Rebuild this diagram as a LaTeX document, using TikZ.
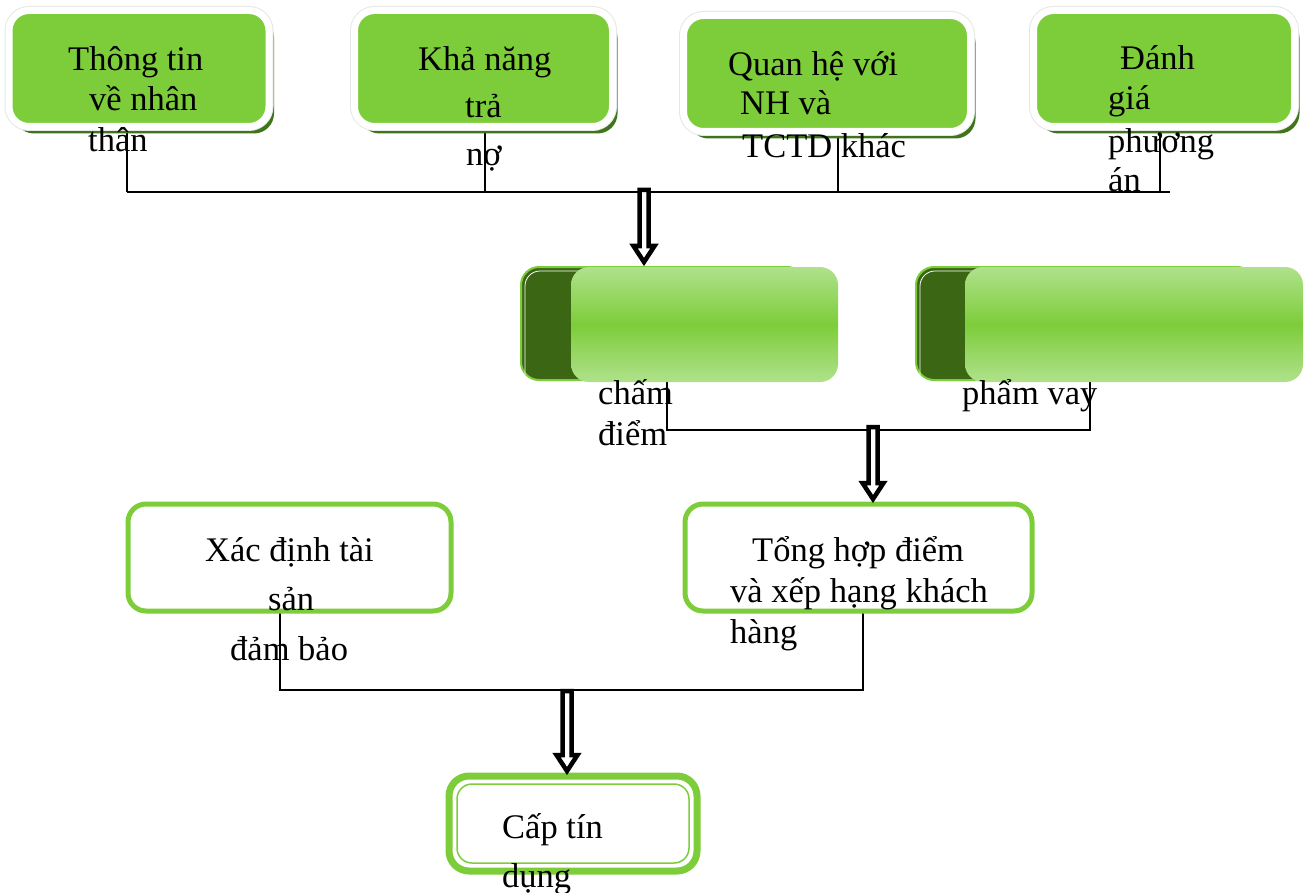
\documentclass[tikz,border=0pt]{standalone}
\usepackage{fontspec}
\setmainfont{Liberation Serif}
\usetikzlibrary{calc}
\definecolor{leaf}{RGB}{125,205,58}
\definecolor{leafshadow}{RGB}{64,116,28}
\definecolor{deepleaf}{RGB}{59,102,20}
\definecolor{paleleaf}{RGB}{176,225,140}
\definecolor{haze}{RGB}{228,232,226}

% hollow block arrow running straight down from #1 to the top edge of #2
\newcommand\hollowarrow[2]{%
  \draw[hollow] let \p1=(#1), \p2=(#2) in
    (\x1-4.5pt,\y1) -- (\x1-4.5pt,\y2+21pt) -- (\x1-10.5pt,\y2+21pt) --
    (\x1,\y2+5pt) -- (\x1+10.5pt,\y2+21pt) -- (\x1+4.5pt,\y2+21pt) --
    (\x1+4.5pt,\y1) -- cycle;}
% rounded panel drawn over the frame of a named node
\newcommand\panel[2]{\path[#1] (#2.north west) rectangle (#2.south east);}

\begin{document}
\begin{tikzpicture}[x=1pt,y=-1pt,
  box/.style={inner sep=0pt, outer sep=0pt},
  lbl/.style={inner sep=0pt, anchor=base west, font=\fontsize{34.5}{40}\selectfont, text=black},
  topbox/.style={rounded corners=20pt, fill=leaf, draw=white, line width=7pt,
    preaction={fill=leafshadow, transform canvas={xshift=5pt,yshift=-7pt}},
    preaction={draw=haze, line width=9pt}},
  darkbox/.style={rounded corners=18pt, fill=deepleaf, draw=leaf, line width=2pt},
  glossbox/.style={rounded corners=18pt, top color=paleleaf, bottom color=paleleaf, middle color=leaf},
  framebox/.style={rounded corners=18pt, fill=white, draw=leaf, line width=5pt},
  endbox/.style={rounded corners=20pt, fill=white, draw=leaf, line width=7pt},
  innerline/.style={rounded corners=15pt, draw=leaf, line width=1.5pt},
  wire/.style={draw=black, line width=1.2pt},
  hollow/.style={draw=black, fill=white, line width=4.5pt, line join=miter, line cap=round}]

\useasboundingbox (0,0) rectangle (1305,893);

% ---- box geometry ----
\path
  (139,68.5)    node[box, minimum width=260, minimum height=116] (b1) {}
  (483.5,68.5)  node[box, minimum width=258, minimum height=116] (b2) {}
  (827,73.5)    node[box, minimum width=287, minimum height=116] (b3) {}
  (1164,68.5)   node[box, minimum width=261, minimum height=116] (b4) {}
  (663,323.5)   node[box, minimum width=284, minimum height=113] (k5) {}
  (1085.5,323.5) node[box, minimum width=339, minimum height=113] (k6) {}
  (704.5,324.5) node[box, minimum width=267, minimum height=115] (g5) {}
  (1134,324.5)  node[box, minimum width=338, minimum height=115] (g6) {}
  (289.5,557.5) node[box, minimum width=323, minimum height=107] (b7) {}
  (858.5,557.5) node[box, minimum width=347, minimum height=107] (b8) {}
  (573,823.5)   node[box, minimum width=248, minimum height=95] (b9) {}
  (573,823.5)   node[box, minimum width=232, minimum height=79] (b9i) {};

% ---- wires ----
\coordinate (d1) at ($(b1.south)+(-12,0)$);
\coordinate (d2) at ($(b2.south)+(1.5,0)$);
\coordinate (d3) at ($(b3.south)+(11,0)$);
\coordinate (d4) at ($(b4.south)+(-4,0)$);
\coordinate (busA) at (127,192);
\coordinate (busB) at (1170,192);
\draw[wire] (busA) -- (busB);
\foreach \d in {d1,d2,d3,d4} \draw[wire] (\d) -- (\d |- busA);

\coordinate (e1) at ($(g5.south)+(-37.5,-2)$);
\coordinate (e2) at ($(g6.south)+(-44,-2)$);
\coordinate (busC) at (667,430);
\draw[wire] (e1) -- (e1 |- busC) -- (e2 |- busC) -- (e2);

\coordinate (f1) at ($(b7.south)+(-9.5,0)$);
\coordinate (f2) at ($(b8.south)+(4.5,0)$);
\coordinate (busD) at (280,690);
\draw[wire] (f1) -- (f1 |- busD) -- (f2 |- busD) -- (f2);

% ---- top row ----
\panel{topbox}{b1}
\panel{topbox}{b2}
\panel{topbox}{b3}
\panel{topbox}{b4}

% ---- middle row ----
\panel{darkbox}{k5}
\draw[white, line width=0.8pt, rounded corners=15pt] (525,377) -- (525,271) -- (700,271);
\panel{darkbox}{k6}
\draw[white, line width=0.8pt, rounded corners=15pt] (920,377) -- (920,271) -- (1100,271);
\panel{glossbox}{g5}
\panel{glossbox}{g6}

% ---- lower boxes ----
\panel{framebox}{b7}
\panel{framebox}{b8}
\panel{endbox}{b9}
\panel{innerline}{b9i}

% ---- labels ----
\node[lbl] (t1a) at (68,71)  {Thông tin};
\node[lbl] (t1b) at (89,111) {về nhân};
\node[lbl] (t1c) at (88,152) {thân};
\node[lbl] (t2a) at (418,71) {Khả năng};
\node[lbl] (t2b) at (465,118) {trả};
\node[lbl] (t2c) at (466,166) {nợ};
\node[lbl] (t3a) at (728,76) {Quan hệ với};
\node[lbl] (t3b) at (740,115) {NH và};
\node[lbl] (t3c) at (742,158) {TCTD khác};
\node[lbl] (t4a) at (1120,70) {Đánh};
\node[lbl] (t4b) at (1108,110) {giá};
\node[lbl] (t4c) at (1108,153) {phương};
\node[lbl] (t4d) at (1108,192) {án};
\node[lbl] (t5a) at (598,404) {chấm};
\node[lbl] (t5b) at (598,445) {điểm};
\node[lbl] (t6a) at (962,404) {phẩm vay};
\node[lbl] (t7a) at (205,561) {Xác định tài};
\node[lbl] (t7b) at (268,610) {sản};
\node[lbl] (t7c) at (230,660) {đảm bảo};
\node[lbl] (t8a) at (752,561) {Tổng hợp điểm};
\node[lbl] (t8b) at (730,602) {và xếp hạng khách};
\node[lbl] (t8c) at (730,643) {hàng};
\node[lbl] (t9a) at (502,838) {Cấp tín};
\node[lbl] (t9b) at (502,887) {dụng};

% ---- block arrows ----
\coordinate (a1) at (644,190);
\coordinate (a2) at (873,427);
\coordinate (a3) at (567,691);
\hollowarrow{a1}{k5.north}
\hollowarrow{a2}{b8.north}
\hollowarrow{a3}{b9.north}
\end{tikzpicture}
\end{document}
